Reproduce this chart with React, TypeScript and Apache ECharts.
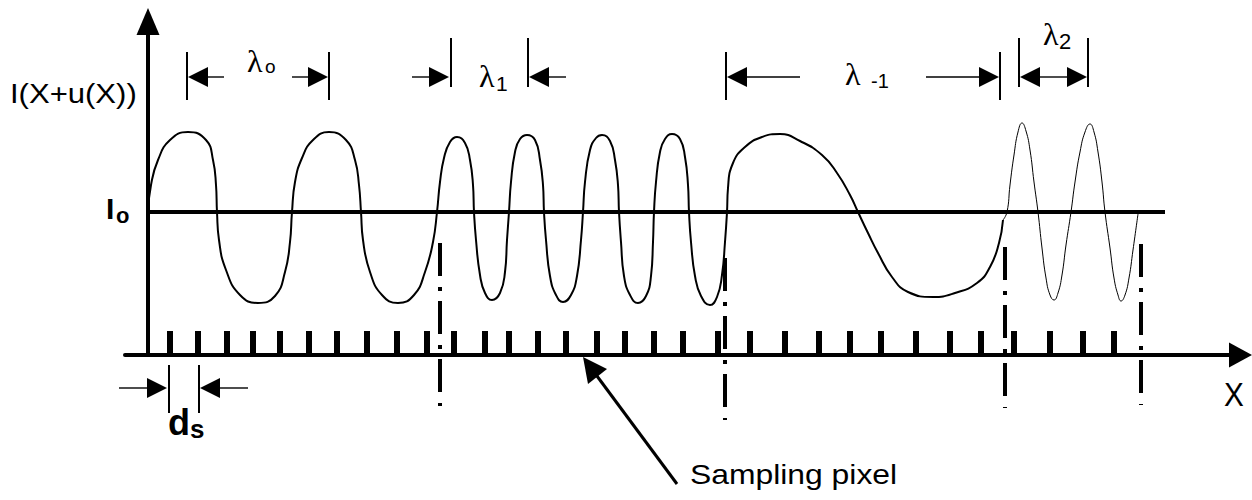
import React, { useEffect, useRef } from "react";
import * as echarts from "echarts";

// X = position along the sensor (px units of the drawing, origin at the intensity axis)
// I = intensity (origin on the X axis)
const I0_LEVEL = 143;
const I0_END = 1017;

const WAVE_THICK: [number, number][] = [
  [0, 143], [3, 170], [10, 195], [22, 215], [40, 223], [58, 215], [65, 195], [68, 170], [69, 143],
  [71, 115], [78, 85], [92, 60], [110, 52], [127, 59], [137, 83], [142, 113], [144, 143],
  [147, 173], [154, 197], [165, 215], [181, 223], [198, 215], [207, 195], [211, 170], [213, 143],
  [215, 115], [222, 83], [234, 60], [250, 52], [266, 60], [277, 83], [285, 113], [289, 143],
  [292, 173], [296, 197], [302, 213], [309, 218], [317, 212], [322, 195], [325, 170], [326, 143],
  [328, 115], [332, 80], [337, 62], [344, 55], [352, 62], [357, 83], [359, 115], [361, 143],
  [363, 173], [367, 203], [372, 216], [379, 220], [387, 215], [392, 195], [395, 170], [396, 143],
  [398, 115], [402, 79], [408, 60], [415, 53], [423, 60], [429, 79], [433, 115], [435, 143],
  [437, 173], [442, 205], [448, 217], [454, 220], [462, 214], [467, 195], [470, 170], [471, 143],
  [473, 113], [476, 79], [482, 60], [490, 52], [498, 59], [503, 79], [505, 113], [506, 143],
  [508, 173], [512, 203], [517, 216], [524, 221], [532, 216], [537, 198], [540, 170], [541, 143],
  [543, 113], [547, 79], [553, 59], [562, 50], [569, 58], [574, 80], [577, 113], [579, 143],
  [580, 167], [585, 192], [597, 208], [614, 218], [632, 221], [652, 214], [674, 200], [689, 182], [702, 160], [710, 143],
  [720, 122], [730, 102], [744, 78], [760, 63], [785, 58], [807, 62], [829, 72], [842, 88], [851, 112], [855, 135],
];

const WAVE_THIN: [number, number][] = [
  [855, 135], [859, 143], [862, 170], [866, 200], [870, 223], [874, 232], [878, 224], [882, 205], [886, 173], [890, 143],
  [894, 107], [898, 77], [902, 60], [906, 55], [910, 62], [914, 80], [918, 110], [923, 143],
  [927, 173], [932, 203], [937, 223], [942, 231], [946, 223], [950, 203], [954, 173], [957, 143],
  [962, 107], [966, 77], [970, 60], [973, 54], [977, 60], [981, 77], [985, 105], [990, 141],
];

const SAMPLE_TICKS = [
  22, 50, 79, 105, 132, 161, 189, 219, 249, 279, 306, 337, 361, 390, 418, 449, 477, 506, 535, 570,
  602, 637, 671, 702, 733, 768, 802, 833, 866, 902, 935, 966,
];

const BOUNDARY_X = [292, 577, 857, 993];
const BOUNDARY_TOP = [112, 97, 108, 111];
const BOUNDARY_BOTTOM = [-51, -65, -53, -50];

// dimension markers: start X, end X, arrow level, bar top, bar bottom, tail (-1 = full), kind (0 inside, 1 outside)
const SPAN_START = [39, 303, 578, 871, 21];
const SPAN_END = [181, 380, 852, 940, 51];
const SPAN_LEVEL = [278, 278, 278, 278, -33];
const SPAN_BAR_TOP = [303, 317, 303, 317, -10];
const SPAN_BAR_BOTTOM = [255, 268, 255, 268, -58];
const SPAN_TAIL = [16, 17, 53, -1, 28];
const SPAN_KIND = [0, 1, 0, 0, 1];

const SANS = '"Liberation Sans", Arial, sans-serif';
const SERIF = '"Liberation Serif", "Times New Roman", serif';

function txt(text: string, x: number, y: number, font: string, scaleX = 1, scaleY = 1) {
  return {
    type: "text",
    x,
    y,
    scaleX,
    scaleY,
    z: 10,
    style: {
      text,
      font,
      fill: "#000",
      align: "left",
      verticalAlign: "middle",
      textAlign: "left",
      textVerticalAlign: "middle",
    },
  };
}

export default function App() {
  const ref = useRef<HTMLDivElement>(null);

  useEffect(() => {
    if (!ref.current) return;
    const chart = echarts.init(ref.current, undefined, { renderer: "svg" });

    const spanData = SPAN_START.map((s, i) => [
      s, SPAN_END[i], SPAN_LEVEL[i], SPAN_BAR_TOP[i], SPAN_BAR_BOTTOM[i], SPAN_TAIL[i], SPAN_KIND[i],
    ]);

    const boundarySeries = BOUNDARY_X.map((x, i) => ({
      type: "line",
      name: "boundary" + i,
      data: [[x, BOUNDARY_TOP[i]], [x, BOUNDARY_BOTTOM[i]]],
      symbol: "none",
      clip: false,
      silent: true,
      lineStyle: { color: "#000", width: 4, type: [33, 11, 4, 10], cap: "butt" },
      z: 3,
    }));

    chart.setOption({
      animation: false,
      backgroundColor: "#fff",
      grid: { left: 125, top: 21.5, right: 11.5, bottom: 145, containLabel: false },
      xAxis: {
        type: "value",
        min: -23,
        max: 1092.5,
        axisLine: {
          show: true,
          onZero: true,
          symbol: ["none", "triangle"],
          symbolSize: [25, 23],
          lineStyle: { color: "#000", width: 4 },
        },
        axisTick: {
          show: true,
          inside: true,
          length: 24,
          customValues: SAMPLE_TICKS,
          lineStyle: { color: "#000", width: 6 },
        },
        axisLabel: { show: false },
        splitLine: { show: false },
      },
      yAxis: {
        type: "value",
        min: 0,
        max: 333.5,
        axisLine: {
          show: true,
          onZero: true,
          symbol: ["none", "triangle"],
          symbolSize: [23, 27],
          lineStyle: { color: "#000", width: 4 },
        },
        axisTick: { show: false },
        axisLabel: { show: false },
        splitLine: { show: false },
      },
      series: [
        {
          type: "line",
          name: "I0",
          data: [[0, I0_LEVEL], [I0_END, I0_LEVEL]],
          symbol: "none",
          silent: true,
          lineStyle: { color: "#000", width: 4 },
          z: 2,
        },
        {
          type: "line",
          name: "wave",
          data: WAVE_THICK,
          symbol: "none",
          smooth: 0.5,
          silent: true,
          lineStyle: { color: "#000", width: 2 },
          z: 4,
        },
        {
          type: "line",
          name: "wave2",
          data: WAVE_THIN,
          symbol: "none",
          smooth: 0.5,
          silent: true,
          lineStyle: { color: "#000", width: 1 },
          z: 4,
        },
        ...boundarySeries,
        {
          type: "custom",
          name: "spans",
          data: spanData,
          clip: false,
          silent: true,
          encode: { x: [0, 1], y: 2 },
          renderItem: (_params: any, api: any) => {
            const x1 = api.value(0);
            const x2 = api.value(1);
            const lv = api.value(2);
            const bt = api.value(3);
            const bb = api.value(4);
            const tail = api.value(5);
            const kind = api.value(6);
            const p1 = api.coord([x1, lv]);
            const p2 = api.coord([x2, lv]);
            const yt = api.coord([x1, bt])[1];
            const yb = api.coord([x1, bb])[1];
            const py = p1[1];
            const a = p1[0];
            const b = p2[0];
            const L = 20;
            const H = 10;
            const barStyle = { stroke: "#000", lineWidth: 2 };
            const lineStyle = { stroke: "#000", lineWidth: 1.4 };
            const fill = { fill: "#000" };
            const ch: any[] = [
              { type: "line", shape: { x1: a, y1: yt, x2: a, y2: yb }, style: barStyle },
              { type: "line", shape: { x1: b, y1: yt, x2: b, y2: yb }, style: barStyle },
            ];
            if (kind === 0) {
              const lt = a + 1;
              const rt = b - 1;
              ch.push({ type: "polygon", shape: { points: [[lt, py], [lt + L, py - H], [lt + L, py + H]] }, style: fill });
              ch.push({ type: "polygon", shape: { points: [[rt, py], [rt - L, py - H], [rt - L, py + H]] }, style: fill });
              if (tail < 0) {
                ch.push({ type: "line", shape: { x1: lt + L, y1: py, x2: rt - L, y2: py }, style: lineStyle });
              } else {
                ch.push({ type: "line", shape: { x1: lt + L, y1: py, x2: lt + L + tail, y2: py }, style: lineStyle });
                ch.push({ type: "line", shape: { x1: rt - L - tail, y1: py, x2: rt - L, y2: py }, style: lineStyle });
              }
            } else {
              const lt = a - 2;
              const rt = b + 1;
              ch.push({ type: "polygon", shape: { points: [[lt, py], [lt - L, py - H], [lt - L, py + H]] }, style: fill });
              ch.push({ type: "polygon", shape: { points: [[rt, py], [rt + L, py - H], [rt + L, py + H]] }, style: fill });
              ch.push({ type: "line", shape: { x1: lt - L - tail, y1: py, x2: lt - L, y2: py }, style: lineStyle });
              ch.push({ type: "line", shape: { x1: rt + L, y1: py, x2: rt + L + tail, y2: py }, style: lineStyle });
            }
            return { type: "group", children: ch };
          },
          z: 5,
        },
      ],
      graphic: [
        txt("I(X+u(X))", 10, 94, `27px ${SANS}`, 1.15),
        txt("I", 106, 208.5, `bold 30px ${SANS}`),
        txt("o", 116, 215, `bold 22px ${SANS}`),
        txt("λ", 247, 61, `32px ${SERIF}`),
        txt("o", 265, 66.5, `19px ${SANS}`),
        txt("λ", 479, 76, `32px ${SERIF}`),
        txt("1", 496, 83, `21px ${SANS}`),
        txt("λ", 845, 74, `32px ${SERIF}`),
        txt("-1", 871, 81, `20px ${SANS}`),
        txt("λ", 1043, 34, `32px ${SERIF}`),
        txt("2", 1059, 41, `22px ${SANS}`),
        txt("d", 168, 422, `bold 36px ${SANS}`),
        txt("s", 190, 429, `bold 26px ${SANS}`),
        txt("X", 1224, 395, `33px ${SANS}`, 0.9),
        txt("Sampling pixel", 690, 474, `27px ${SANS}`, 1.18),
        {
          type: "line",
          shape: { x1: 677, y1: 484, x2: 594, y2: 372 },
          style: { stroke: "#000", lineWidth: 3 },
        },
        {
          type: "polygon",
          shape: { points: [[583, 357], [588, 384], [607, 369]] },
          style: { fill: "#000" },
        },
      ],
    });

    return () => chart.dispose();
  }, []);

  return (
    <div
      ref={ref}
      style={{ position: "fixed", left: 0, top: 0, width: 1252, height: 500, background: "#fff" }}
    />
  );
}
